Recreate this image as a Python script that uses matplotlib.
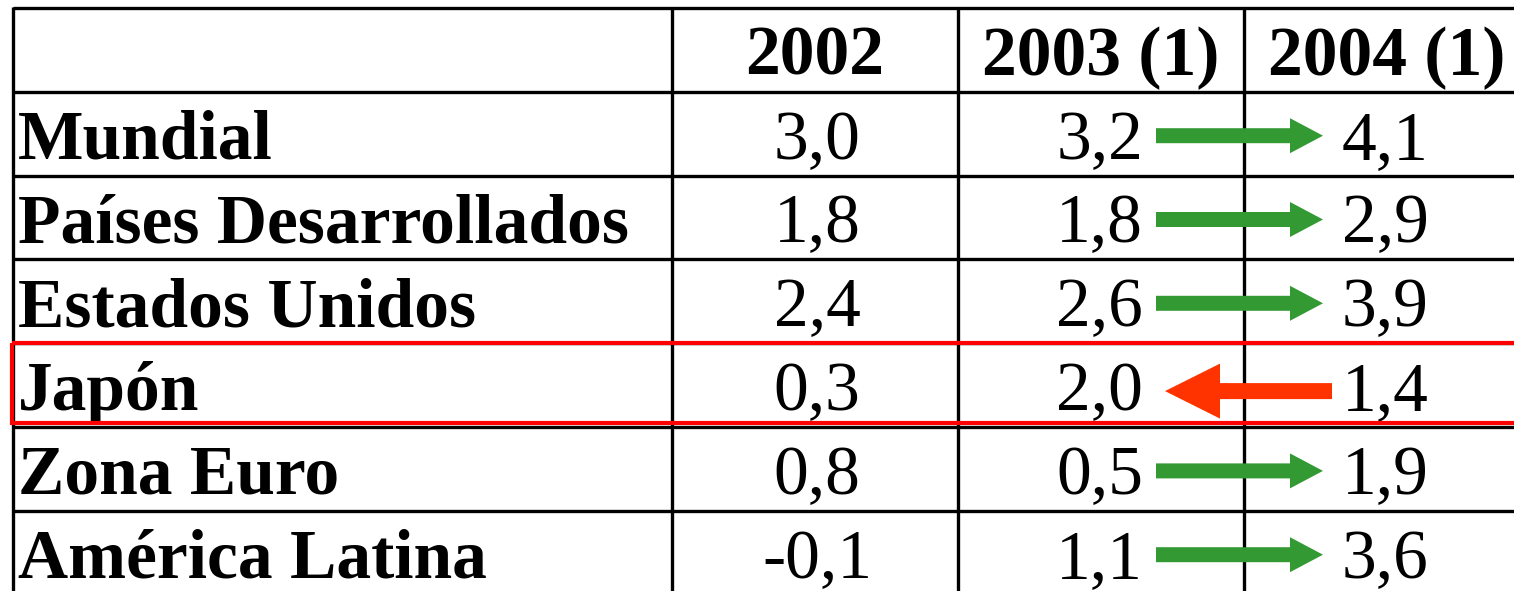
import matplotlib
matplotlib.use("Agg")
import matplotlib.pyplot as plt
from matplotlib.patches import Rectangle, FancyArrow

headers = ["2002", "2003 (1)", "2004 (1)"]
regions = ["Mundial", "Países Desarrollados", "Estados Unidos", "Japón",
           "Zona Euro", "América Latina"]
v2002 = ["3,0", "1,8", "2,4", "0,3", "0,8", "-0,1"]
v2003 = ["3,2", "1,8", "2,6", "2,0", "0,5", "1,1"]
v2004 = ["4,1", "2,9", "3,9", "1,4", "1,9", "3,6"]
highlight = ["Japón"]

W, H = 1514, 591
fig = plt.figure(figsize=(W / 100, H / 100), dpi=100)
ax = fig.add_axes([0, 0, 1, 1])
ax.set_xlim(0, W)
ax.set_ylim(H, 0)
ax.axis("off")

col_x = [13, 672, 958, 1244, 1530]
row_h = 83.8
top = 8
nrows = len(regions) + 1
row_y = [top + i * row_h for i in range(nrows + 1)]

lw = 2.4
for y in row_y[:-1]:
    ax.plot([col_x[0], W + 5], [y, y], color="black", lw=lw, solid_capstyle="butt")
for x in col_x[:-1]:
    ax.plot([x, x], [top - 1, H + 5], color="black", lw=lw, solid_capstyle="butt")

serif = ["Liberation Serif", "DejaVu Serif"]
fs = 50

# header
centers = [(col_x[i] + col_x[i + 1]) / 2 for i in range(1, 4)]
for h, cx in zip(headers, centers):
    ax.text(cx, row_y[1] - 17, h, ha="center", va="baseline", fontsize=fs,
            fontweight="bold", family=serif)

for i, reg in enumerate(regions):
    yb = row_y[i + 2] - 17
    yc = (row_y[i + 1] + row_y[i + 2]) / 2
    ax.text(18, yb, reg, ha="left", va="baseline", fontsize=fs,
            fontweight="bold", family=serif)
    ax.text(centers[0] + 2, yb, v2002[i], ha="center", va="baseline",
            fontsize=fs, family=serif)
    ax.text(1143, yb, v2003[i], ha="right", va="baseline", fontsize=fs,
            family=serif)
    ax.text(1342, yb, v2004[i], ha="left", va="baseline", fontsize=fs,
            family=serif)
    a = float(v2003[i].replace(",", "."))
    b = float(v2004[i].replace(",", "."))
    if b >= a:
        ax.add_patch(FancyArrow(1156, yc + 2, 1323 - 1156, 0, width=15,
                                head_width=35, head_length=33,
                                length_includes_head=True, color="#339933",
                                lw=0, zorder=4))
    else:
        ax.add_patch(FancyArrow(1332, yc + 6, 1165 - 1332, 0, width=16,
                                head_width=55, head_length=55,
                                length_includes_head=True, color="#FF3300",
                                lw=0, zorder=4))
    if reg in highlight:
        ax.add_patch(Rectangle((11.5, row_y[i + 1]), W + 20,
                               row_y[i + 2] - row_y[i + 1] - 4.5, fill=False,
                               edgecolor="#FF0000", lw=3, zorder=5))

fig.savefig("out.png", dpi=100)
